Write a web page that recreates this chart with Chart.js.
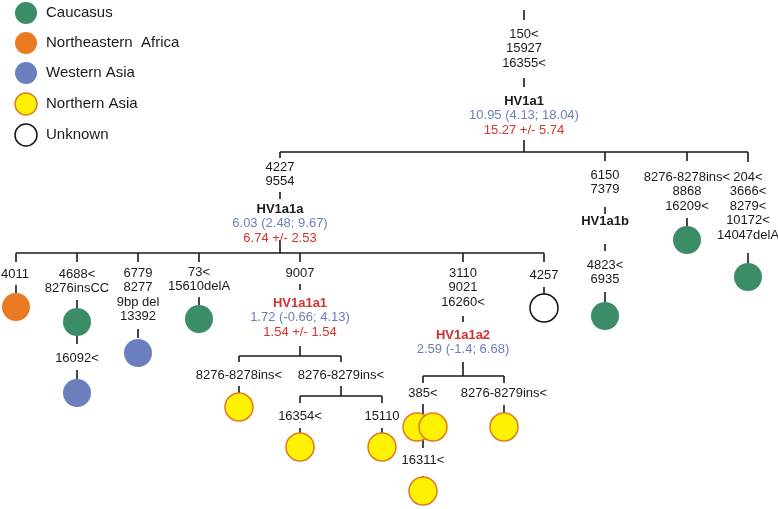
<!DOCTYPE html>
<html>
<head>
<meta charset="utf-8">
<script src="https://cdn.jsdelivr.net/npm/chart.js@4.4.1/dist/chart.umd.min.js"></script>
<style>
    html, body { margin: 0; padding: 0; background: #fff; }
    #wrap { width: 778px; height: 509px; position: relative; }
</style>
</head>
<body>
<div id="wrap"><canvas id="tree"></canvas></div>
<script>
// Legend
const regions = ['Caucasus', 'Northeastern  Africa', 'Western Asia', 'Northern Asia', 'Unknown'];

// Haplogroup nodes and their age estimates
const hapNames = ['HV1a1', 'HV1a1a', 'HV1a1b', 'HV1a1a1', 'HV1a1a2'];
const ageMean = [10.95, 6.03, null, 1.72, 2.59];
const ageLow = [4.13, 2.48, null, -0.66, -1.4];
const ageHigh = [18.04, 9.67, null, 4.13, 6.68];
const rhoAge = [15.27, 6.74, null, 1.54, null];
const rhoSd = [5.74, 2.53, null, 1.54, null];

// Mutations on each branch
const mutations = [
    ['150<', '15927', '16355<'],
    ['4227', '9554'],
    ['6150', '7379'],
    ['8276-8278ins<', '8868', '16209<'],
    ['204<', '3666<', '8279<', '10172<', '14047delA'],
    ['4011'],
    ['4688<', '8276insCC'],
    ['16092<'],
    ['6779', '8277', '9bp del', '13392'],
    ['73<', '15610delA'],
    ['9007'],
    ['3110', '9021', '16260<'],
    ['4257'],
    ['4823<', '6935'],
    ['8276-8278ins<'],
    ['8276-8279ins<'],
    ['16354<'],
    ['15110'],
    ['385<'],
    ['8276-8279ins<'],
    ['16311<']
];

// Sampled sequences (circles): region index per sample
const sampleRegion = [1, 0, 2, 2, 0, 3, 3, 3, 3, 3, 3, 3, 4, 0, 0, 0];

// ---- layout of the tree (positions only) ----
const hapX = [524, 280, 605, 300, 463];
const hapY = [101, 209, 221, 303, 335];
const mutX = [524, 280, 605, 687, 748, 15, 77, 77, 138, 199, 300, 463, 544, 605, 239, 341, 300, 382, 423, 504, 423];
const mutY = [34, 167, 175, 177, 177, 274, 274, 358, 273, 272, 273, 273, 275, 265, 375, 375, 416, 416, 393, 393, 460];
const sampleX = [16, 77, 77, 138, 199, 239, 300, 382, 417, 433, 423, 504, 544, 605, 687, 748];
const sampleY = [307, 322, 393, 353, 319, 407, 447, 447, 427, 427, 491, 427, 308, 316, 240, 277];
const legendY = [13, 43, 73, 104, 135];

const barY = [152, 253, 356, 396, 376];
const barX1 = [280, 16, 239, 300, 423];
const barX2 = [748, 544, 341, 382, 504];

const stemX = [524, 524, 524, 280, 605, 687, 748, 280, 280,
    16, 77, 138, 199, 300, 463, 544,
    16, 77, 77, 77, 138, 199, 300, 300, 239, 341, 239, 341, 300, 382, 300, 382,
    463, 463, 423, 504, 423, 423, 504, 544, 605, 605, 605, 687, 748];
const stemY1 = [10, 78, 140, 152, 152, 152, 152, 192, 240,
    253, 253, 253, 253, 253, 253, 253,
    285, 300, 336, 370, 329, 297, 284, 346, 356, 356, 386, 386, 396, 396, 428, 428,
    316, 362, 376, 376, 404, 476, 405, 287, 207, 244, 292, 218, 253];
const stemY2 = [20, 87, 152, 158, 161, 161, 162, 199, 253,
    262, 262, 262, 262, 262, 262, 262,
    293, 308, 344, 379, 338, 305, 290, 356, 362, 362, 394, 396, 403, 403, 435, 435,
    322, 376, 383, 383, 448, 486, 413, 294, 214, 251, 302, 228, 263];

const regionFill = ['#3b8d68', '#ea7a22', '#6b7fbd', '#fff200', '#ffffff'];
const regionBorder = ['#3b8d68', '#ea7a22', '#6b7fbd', '#e07b22', '#111111'];
const FONT = "'Liberation Sans', Arial, sans-serif";

function segmentsData(xs1, ys1, xs2, ys2) {
    const pts = [];
    for (let i = 0; i < xs1.length; i++) {
        pts.push({ x: xs1[i], y: ys1[i] });
        pts.push({ x: xs2[i], y: ys2[i] });
        pts.push({ x: xs2[i], y: null });
    }
    return pts;
}

const treeLines = segmentsData(barX1, barY, barX2, barY)
    .concat(segmentsData(stemX, stemY1, stemX, stemY2));

const textPlugin = {
    id: 'treeText',
    afterDatasetsDraw(chart) {
        const ctx = chart.ctx;
        const xs = chart.scales.x;
        const ys = chart.scales.y;
        ctx.save();
        ctx.textBaseline = 'middle';

        // legend text
        ctx.textAlign = 'left';
        ctx.fillStyle = '#1a1a1a';
        ctx.font = '15px ' + FONT;
        regions.forEach((r, i) => {
            ctx.fillText(r, xs.getPixelForValue(46), ys.getPixelForValue(legendY[i]));
        });

        ctx.textAlign = 'center';
        ctx.font = '13px ' + FONT;
        mutations.forEach((lines, i) => {
            lines.forEach((t, j) => {
                ctx.fillText(t, xs.getPixelForValue(mutX[i]), ys.getPixelForValue(mutY[i] + j * 14.5));
            });
        });

        hapNames.forEach((name, i) => {
            const x = xs.getPixelForValue(hapX[i]);
            let y = hapY[i];
            ctx.font = 'bold 13px ' + FONT;
            ctx.fillStyle = i >= 3 ? '#d2312e' : '#1a1a1a';
            ctx.fillText(name, x, ys.getPixelForValue(y));
            ctx.font = '13px ' + FONT;
            if (ageMean[i] !== null) {
                y += 14.5;
                ctx.fillStyle = '#6b7fb5';
                ctx.fillText(ageMean[i] + ' (' + ageLow[i] + '; ' + ageHigh[i] + ')', x, ys.getPixelForValue(y));
            }
            if (rhoAge[i] !== null) {
                y += 14.5;
                ctx.fillStyle = '#d2312e';
                ctx.fillText(rhoAge[i] + ' +/- ' + rhoSd[i], x, ys.getPixelForValue(y));
            }
        });
        ctx.restore();
    }
};

new Chart(document.getElementById('tree'), {
    type: 'scatter',
    data: {
        datasets: [
            {
                label: 'samples',
                data: sampleX.map((x, i) => ({ x: x, y: sampleY[i] })),
                pointRadius: 14,
                pointBackgroundColor: sampleRegion.map(r => regionFill[r]),
                pointBorderColor: sampleRegion.map(r => regionBorder[r]),
                pointBorderWidth: sampleRegion.map(r => (r >= 3 ? 1.5 : 0)),
                clip: false,
                order: 0
            },
            {
                label: 'legend',
                data: legendY.map(y => ({ x: 26, y: y })),
                pointRadius: 11,
                pointBackgroundColor: regionFill,
                pointBorderColor: regionBorder,
                pointBorderWidth: regions.map((r, i) => (i >= 3 ? 1.5 : 0)),
                clip: false,
                order: 0
            },
            {
                label: 'tree',
                type: 'line',
                data: treeLines,
                borderColor: '#1a1a1a',
                borderWidth: 1.6,
                pointRadius: 0,
                spanGaps: false,
                clip: false,
                order: 1
            }
        ]
    },
    options: {
        responsive: true,
        maintainAspectRatio: false,
        animation: false,
        layout: { padding: 0, autoPadding: false },
        plugins: {
            legend: { display: false },
            tooltip: { enabled: false }
        },
        elements: { line: { tension: 0 }, point: { hoverRadius: 0 } },
        scales: {
            x: { type: 'linear', min: 0, max: 778, display: false },
            y: { type: 'linear', min: 0, max: 509, reverse: true, display: false }
        }
    },
    plugins: [textPlugin]
});
</script>
</body>
</html>
